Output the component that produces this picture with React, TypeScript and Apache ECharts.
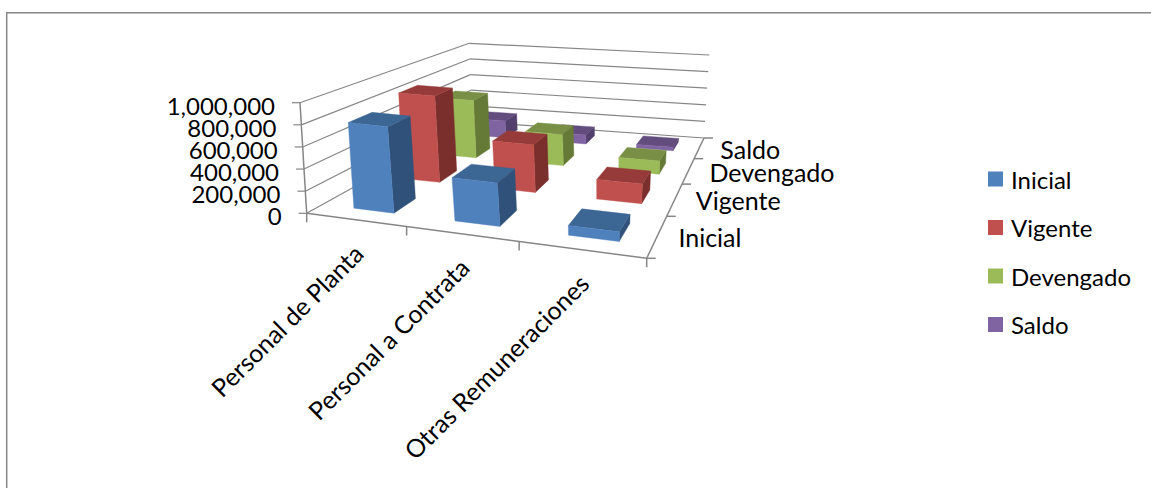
import React, { useEffect, useRef } from "react";
import * as echarts from "echarts";

const categories = ["Personal de Planta", "Personal a Contrata", "Otras Remuneraciones"];
const seriesNames = ["Inicial", "Vigente", "Devengado", "Saldo"];
const inicial = [790000, 390000, 85000];
const vigente = [870000, 470000, 190000];
const devengado = [630000, 335000, 140000];
const saldo = [200000, 105000, 40000];
const valueTicks = [0, 200000, 400000, 600000, 800000, 1000000];

const seriesValues = [inicial, vigente, devengado, saldo];
const front = ["#4F81BD", "#C0504D", "#9BBB59", "#8064A2"];
const side = ["#30527A", "#7B2F2D", "#647A36", "#533F6B"];
const top = ["#3C6694", "#963B39", "#788F45", "#634C7E"];

const FONT = "Lato, 'Open Sans', sans-serif";
const GRID = 100;

type P = [number, number];
function homography(p00: P, p10: P, p11: P, p01: P) {
  const dx1 = p10[0] - p11[0], dx2 = p01[0] - p11[0], sx = p00[0] - p10[0] + p11[0] - p01[0];
  const dy1 = p10[1] - p11[1], dy2 = p01[1] - p11[1], sy = p00[1] - p10[1] + p11[1] - p01[1];
  const det = dx1 * dy2 - dx2 * dy1;
  const g = (sx * dy2 - dx2 * sy) / det;
  const h = (dx1 * sy - sx * dy1) / det;
  const a = p10[0] - p00[0] + g * p10[0], b = p01[0] - p00[0] + h * p01[0], c = p00[0];
  const d = p10[1] - p00[1] + g * p10[1], e = p01[1] - p00[1] + h * p01[1], f = p00[1];
  return (u: number, v: number): P => {
    const q = g * u + h * v + 1;
    return [(a * u + b * v + c) / q, (d * u + e * v + f) / q];
  };
}
const floorAt = homography([306.7, 213.3], [646.7, 258.3], [704, 138], [472, 121.5]);
const ceilAt = homography([300, 102.7], [654, 141], [709.3, 55], [469.3, 43.3]);
function project(u: number, v: number, w: number): P {
  const a = floorAt(u, v), b = ceilAt(u, v);
  return [a[0] + (b[0] - a[0]) * w, a[1] + (b[1] - a[1]) * w];
}

const BAR_U_START = 0.33, BAR_U_SIZE = 0.41;
const BAR_V_START = 0.27, BAR_V_SIZE = 0.44;
const GRAY = "#868686";

function line(a: P, b: P, width = 1.2) {
  return {
    type: "line",
    shape: { x1: a[0], y1: a[1], x2: b[0], y2: b[1] },
    style: { stroke: GRAY, lineWidth: width },
    silent: true,
  };
}
function label(text: string, x: number, y: number, align: string, size: number, rotation = 0) {
  return {
    type: "text",
    x, y, rotation,
    style: { text, fill: "#000", font: `${size}px ${FONT}`, align, verticalAlign: "middle" },
    silent: true,
  };
}

function renderFrame() {
  const children: any[] = [];
  valueTicks.forEach((t) => {
    const w = t / valueTicks[valueTicks.length - 1];
    const fl = project(0, 0, w), bl = project(0, 1, w), br = project(1, 1, w);
    children.push(line(fl, bl), line(bl, br));
    children.push(line([fl[0] - 8, fl[1]], fl));
    children.push(label(t.toLocaleString("en-US"), fl[0] - 25, fl[1] + 2.5, "right", 24));
  });
  children.push(line(project(0, 0, 0), project(0, 0, 1), 1.5));
  children.push(line(project(0, 0, 0), project(1, 0, 0), 1.5));
  children.push(line(project(1, 0, 0), project(1, 1, 0), 1.5));
  for (let i = 0; i <= categories.length; i++) {
    const p = project(i / categories.length, 0, 0);
    children.push(line(p, [p[0], p[1] + 9], 1.5));
  }
  for (let j = 0; j <= seriesNames.length; j++) {
    const p = project(1, j / seriesNames.length, 0);
    children.push(line(p, [p[0] + 9, p[1]], 1.5));
  }
  categories.forEach((c, i) => {
    const p = project((i + 0.5) / categories.length, 0, 0);
    children.push(label(c, p[0] + 3, p[1] + 29, "right", 25, Math.PI / 4));
  });
  seriesNames.forEach((s, j) => {
    const p = project(1, (j + 0.5) / seriesNames.length, 0);
    children.push(label(s, p[0] + 21, p[1] + 1, "left", 25));
  });
  return { type: "group", children };
}

function renderBar(j: number) {
  return (_: any, api: any) => {
    const ns = seriesNames.length;
    const cat = api.value(0);
    const pos = api.coord([cat + BAR_U_START, api.value(1)]);
    const pos2 = api.coord([cat + BAR_U_START + BAR_U_SIZE, 0]);
    const u0 = pos[0] / GRID;
    const u1 = pos2[0] / GRID;
    const w = (GRID - pos[1]) / GRID;
    const v0 = (j + BAR_V_START) / ns, v1 = (j + BAR_V_START + BAR_V_SIZE) / ns;
    const poly = (pts: P[], fill: string) => ({
      type: "polygon",
      shape: { points: pts },
      style: { fill, stroke: fill, lineWidth: 0.4 },
      silent: true,
    });
    const a = project(u0, v0, 0), b = project(u1, v0, 0), c = project(u1, v1, 0);
    const at = project(u0, v0, w), bt = project(u1, v0, w), ct = project(u1, v1, w), dt = project(u0, v1, w);
    return {
      type: "group",
      children: [
        poly([b, c, ct, bt], side[j]),
        poly([at, bt, ct, dt], top[j]),
        poly([a, b, bt, at], front[j]),
      ],
    };
  };
}

export default function App() {
  const ref = useRef<HTMLDivElement>(null);
  useEffect(() => {
    const chart = echarts.init(ref.current!, undefined, { renderer: "svg" });
    chart.setOption({
      animation: false,
      backgroundColor: "#fff",
      grid: { left: 0, top: 0, width: GRID, height: GRID },
      xAxis: { type: "value", min: 0, max: categories.length, show: false },
      yAxis: { type: "value", min: 0, max: 1000000, interval: 200000, show: false },
      legend: {
        data: seriesNames,
        orient: "vertical",
        left: 988,
        top: 167,
        padding: 0,
        itemWidth: 15,
        itemHeight: 15,
        itemGap: 24.5,
        icon: "rect",
        textStyle: { fontFamily: FONT, fontSize: 24, color: "#000", lineHeight: 15, padding: [0, 0, 0, 3] },
      },
      graphic: [
        {
          type: "polyline",
          shape: { points: [[6.7, 488], [6.7, 12.7], [1151, 12.7]] },
          style: { stroke: GRAY, lineWidth: 1.5, fill: "none" },
          silent: true,
        },
      ],
      series: [
        {
          type: "custom",
          name: "frame",
          coordinateSystem: "cartesian2d",
          renderItem: renderFrame,
          data: [[0, 0]],
          z: 1,
          clip: false,
        },
        ...seriesNames.map((name, j) => ({
          type: "custom",
          name,
          coordinateSystem: "cartesian2d",
          renderItem: renderBar(j),
          itemStyle: { color: front[j] },
          encode: { x: 0, y: 1 },
          data: seriesValues[j].map((v, i) => [i, v]),
          z: 10 - j,
          clip: false,
        })),
      ],
    });
    return () => chart.dispose();
  }, []);
  return <div ref={ref} style={{ position: "absolute", left: 0, top: 0, width: 1151, height: 488 }} />;
}
